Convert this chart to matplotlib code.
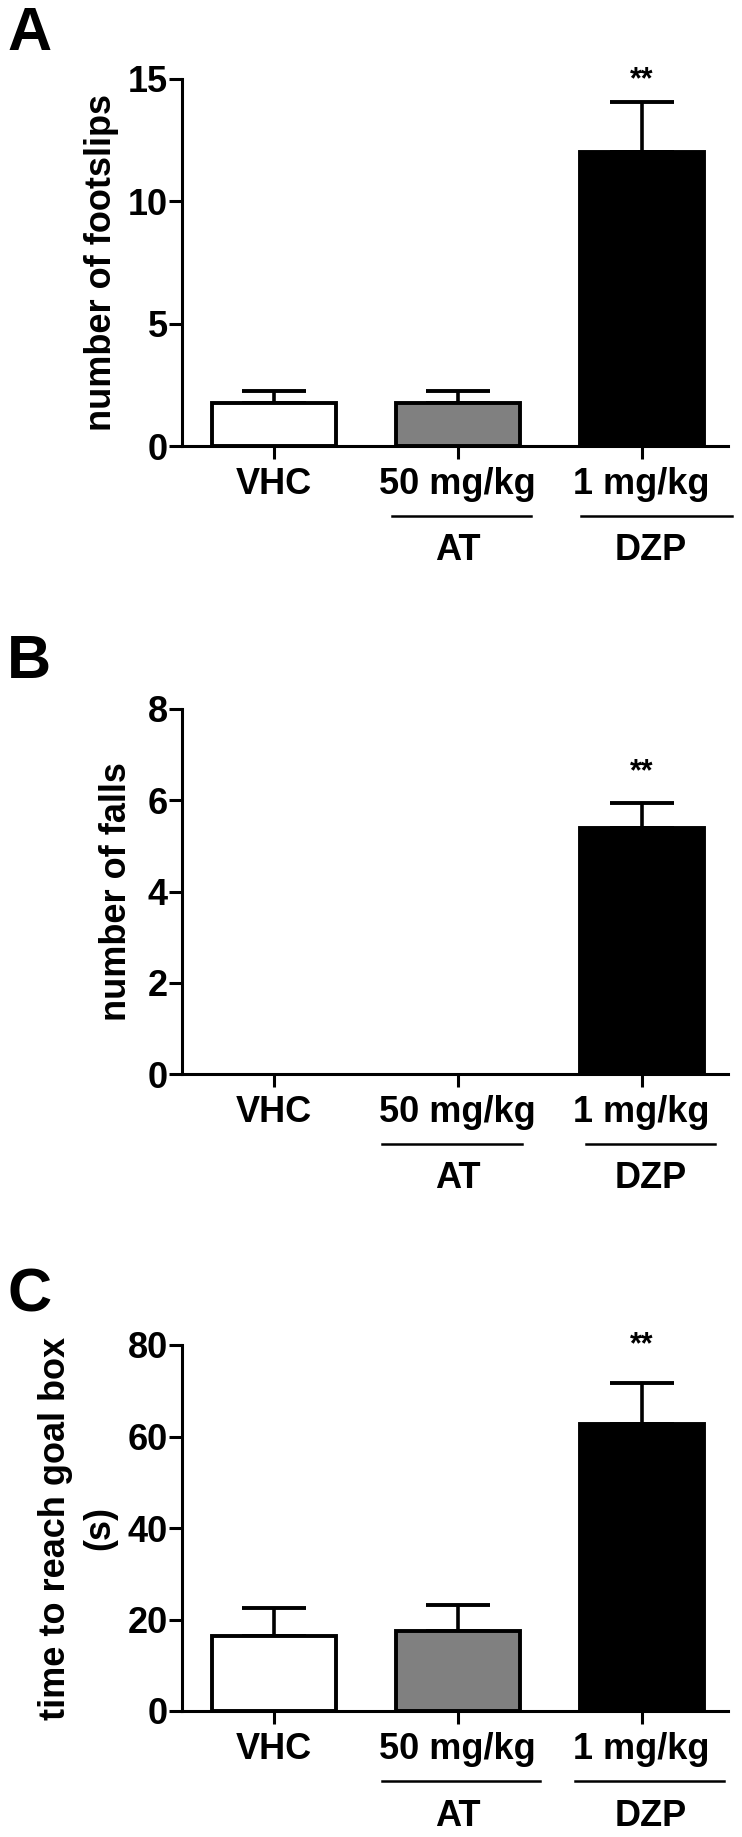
import numpy as np
import matplotlib
matplotlib.use('Agg')
from matplotlib import pyplot as plt

plt.rcParams['font.family'] = ['Liberation Sans', 'DejaVu Sans']
plt.rcParams['font.weight'] = 'bold'

# ---------------- data ----------------
groups = ['VHC', '50 mg/kg', '1 mg/kg']
colors = ['white', '#808080', 'black']

footslips = [1.75, 1.75, 12.0]
footslips_sem = [0.48, 0.48, 2.05]

falls = [0.0, 0.0, 5.4]
falls_sem = [0.0, 0.0, 0.54]

goal_time = [16.3, 17.5, 62.8]
goal_time_sem = [6.2, 5.6, 9.0]

panels = [
    ('A', footslips, footslips_sem, 'number of footslips', [0, 5, 10, 15], 15),
    ('B', falls, falls_sem, 'number of falls', [0, 2, 4, 6, 8], 8),
    ('C', goal_time, goal_time_sem, 'time to reach goal box\n(s)', [0, 20, 40, 60, 80], 80),
]

# ---------------- layout (pixels) ----------------
W, H = 742, 1837
fig = plt.figure(figsize=(W / 100, H / 100), dpi=100)

ax_top = [79, 709, 1345]
ax_bot = [446, 1074, 1711]
ylab_x = [102, 116, 78]
letter_y = [6, 634, 1268]
star_y = [14.95, 6.62, 80.0]
at_span = [(0.64, 1.40), (0.59, 1.35), (0.59, 1.45)]
dzp_span = [(1.67, 2.49), (1.70, 2.40), (1.64, 2.45)]

x = np.arange(len(groups))
left, right = 182, 728

for i, (letter, vals, sem, ylabel, yticks, ymax) in enumerate(panels):
    ax = fig.add_axes([left / W, 1 - ax_bot[i] / H, (right - left) / W,
                       (ax_bot[i] - ax_top[i]) / H])
    vals = np.array(vals)
    sem = np.array(sem)
    show = vals > 0
    ax.bar(x[show], vals[show], width=0.674, color=np.array(colors)[show],
           edgecolor='black', linewidth=2.8, zorder=2)
    ebar = sem > 0
    ax.errorbar(x[ebar], vals[ebar], yerr=[np.zeros(ebar.sum()), sem[ebar]],
                fmt='none', ecolor='black', elinewidth=2.6, capsize=23,
                capthick=2.8, zorder=1)
    ax.text(2, star_y[i], '**', ha='center', va='center',
            fontsize=22, fontweight='bold', clip_on=False)

    ax.set_xlim(-0.5, 2.47)
    ax.set_ylim(0, ymax)
    ax.set_yticks(yticks)
    ax.set_xticks(x)
    ax.set_xticklabels(groups)
    for s in ['top', 'right']:
        ax.spines[s].set_visible(False)
    for s in ['left', 'bottom']:
        ax.spines[s].set_linewidth(2.2)
    ax.tick_params(axis='both', labelsize=26, width=2.2, length=9.3)
    ax.tick_params(axis='y', pad=1)
    ax.tick_params(axis='x', pad=6)

    ax.text((ylab_x[i] - left) / (right - left), 0.5, ylabel,
            transform=ax.transAxes, rotation=90, ha='center', va='center',
            fontsize=26, fontweight='bold', linespacing=1.35)

    # group underlines and labels below the axis
    h = ax_bot[i] - ax_top[i]
    trans = ax.get_xaxis_transform()
    uy = -70 / h
    ty = -105 / h
    for (a, b), name, cx in [(at_span[i], 'AT', 1.0), (dzp_span[i], 'DZP', 2.05)]:
        ax.plot([a, b], [uy, uy], color='black', linewidth=1.8,
                transform=trans, clip_on=False)
        ax.text(cx, ty, name, transform=trans, ha='center', va='center',
                fontsize=26, fontweight='bold')

    fig.text(7 / W, 1 - letter_y[i] / H, letter, ha='left', va='top',
             fontsize=44, fontweight='bold')

fig.savefig('out.png', dpi=100)
